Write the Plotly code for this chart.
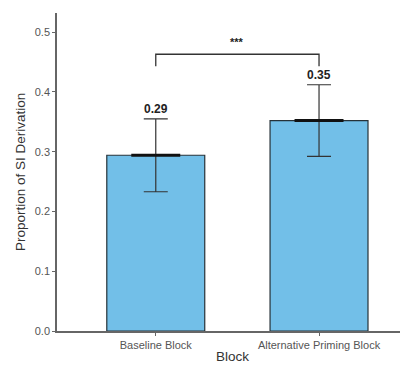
import plotly.graph_objects as go

categories = ["Baseline Block", "Alternative Priming Block"]
means = [0.294, 0.352]
errors = [0.061, 0.060]
labels = ["0.29", "0.35"]
sig_label = "***"
y_ticks = [0.0, 0.1, 0.2, 0.3, 0.4, 0.5]

xpos = list(range(len(categories)))
FONT = "Liberation Sans, Arial"

fig = go.Figure()
fig.add_trace(go.Bar(
    x=xpos, y=means, width=0.6,
    marker=dict(color="#72BFE8", line=dict(color="#263238", width=1.2)),
    error_y=dict(type="data", array=errors, visible=True, color="#333333",
                 thickness=1.2, width=12),
    showlegend=False,
))

# thick mean line at bar top
for x, m in zip(xpos, means):
    fig.add_shape(type="line", xref="x", yref="y", x0=x - 0.15, x1=x + 0.15,
                  y0=m, y1=m, line=dict(color="#111111", width=3))

# value labels
for x, m, e, t in zip(xpos, means, errors, labels):
    fig.add_annotation(x=x, y=m + e, text="<b>%s</b>" % t, showarrow=False,
                       yanchor="bottom", yshift=1,
                       font=dict(family=FONT, size=12, color="#222222"))

# significance bracket
yb = 0.463
yl = 0.443
fig.add_shape(type="path", xref="x", yref="y",
              path=f"M {xpos[0]},{yl} L {xpos[0]},{yb} L {xpos[1]},{yb} L {xpos[1]},{yl}",
              line=dict(color="#333333", width=1.3))
fig.add_annotation(x=(xpos[0] + xpos[1]) / 2, y=yb, text="<b>%s</b>" % sig_label, showarrow=False,
                   yanchor="bottom", yshift=4,
                   font=dict(family=FONT, size=11, color="#222222"))

# axis titles
fig.add_annotation(xref="paper", yref="paper", x=0.5, y=0, text="Block",
                   showarrow=False, xanchor="center", yanchor="bottom", yshift=-35,
                   font=dict(family=FONT, size=13.5, color="#333333"))
fig.add_annotation(xref="paper", yref="paper", x=0, y=0.5, text="Proportion of SI Derivation",
                   showarrow=False, xanchor="center", yanchor="middle", xshift=-37,
                   textangle=-90,
                   font=dict(family=FONT, size=13.5, color="#333333"))

fig.update_layout(
    width=400, height=357,
    margin=dict(l=49, r=0, t=5, b=34),
    plot_bgcolor="white", paper_bgcolor="white",
    font=dict(family=FONT, color="#4d4d4d"),
    xaxis=dict(
        range=[-0.605, 1.545], tickvals=xpos, ticktext=categories,
        showline=True, linecolor="#666666", linewidth=1.5,
        ticks="outside", ticklen=3, tickcolor="#666666",
        tickfont=dict(size=11, color="#555555"),
        showgrid=False, zeroline=False,
    ),
    yaxis=dict(
        range=[0, 0.532], tickvals=y_ticks, tickformat=".1f",
        showline=True, linecolor="#666666", linewidth=1.5,
        ticks="outside", ticklen=3, tickcolor="#666666",
        tickfont=dict(size=11, color="#555555"),
        showgrid=False, zeroline=False,
    ),
)

fig.write_html("out.html")
